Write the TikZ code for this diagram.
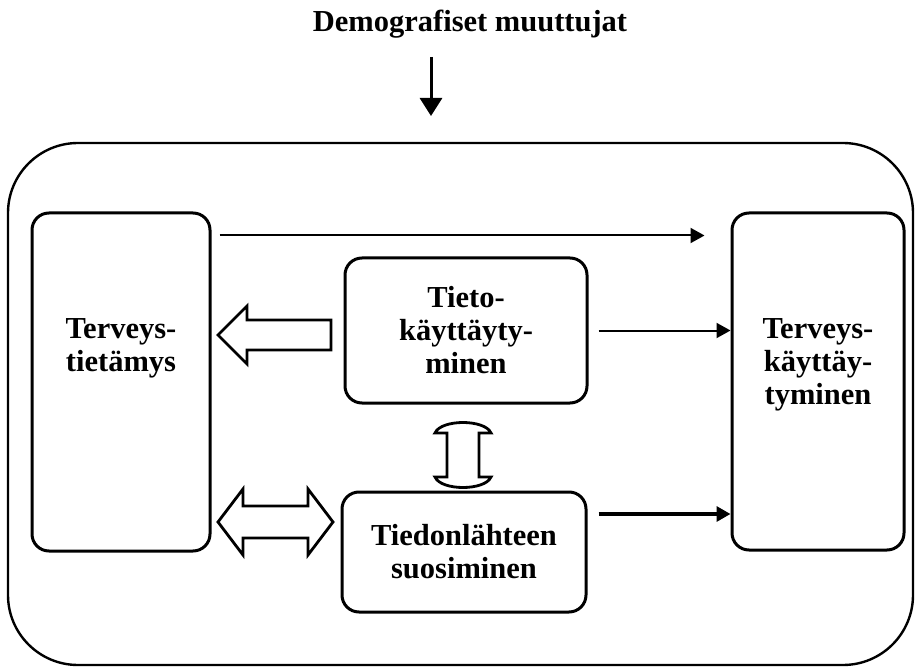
\documentclass[tikz,border=0pt]{standalone}
\usepackage{fontspec}
\setmainfont{Liberation Serif}
\usetikzlibrary{positioning, arrows.meta, calc}

\begin{document}
\begin{tikzpicture}[x=1pt, y=-1pt,
    frame/.style={draw=black, line width=2.4pt, rounded corners=70pt, inner sep=0pt},
    blk/.style={draw=black, line width=3pt, rounded corners=17pt, inner sep=0pt},
    lbl/.style={font=\fontsize{30.5}{33}\selectfont\bfseries, align=center, inner sep=0pt},
    ed/.style={-{Triangle[length=14pt, width=15pt]}, line width=2pt},
    edb/.style={ed, line width=3.2pt},
    hollow/.style={draw=black, line width=2.8pt, line join=miter}
  ]
  \useasboundingbox (0,0) rectangle (915,668);
  % ---------------- demographics ----------------
  \node[lbl, anchor=base] (demo) at (470,32) {Demografiset muuttujat};
  \coordinate (dtop) at (431,57);
  \coordinate (dtip) at (431,116);
  \draw[-{Triangle[length=18pt, width=22pt]}, line width=3pt] (dtop) -- (dtip);

  % ---------------- model ----------------
  \node[frame, minimum width=905, minimum height=522] (malli) at (460.5,404) {};
  \node[blk, minimum width=178, minimum height=338] (tiet) at (121,382) {};
  \node[lbl, anchor=north] (tietl) at (tiet.center |- 0,318) {Terveys-\\tietämys};
  \node[blk, minimum width=172, minimum height=337] (kayt) at (818,381.5) {};
  \node[lbl, anchor=north] (kaytl) at (kayt.center |- 0,318) {Terveys-\\käyttäy-\\tyminen};
  \node[blk, lbl, minimum width=242, minimum height=145] (tk) at (466,330.5) {Tieto-\\käyttäyty-\\minen};
  \node[blk, lbl, minimum width=244, minimum height=120] (ts) at (464,552) {Tiedonlähteen\\suosiminen};

  % ---------------- block arrows ----------------
  \draw[hollow] (218,335) -- (247,306) -- (247,320) -- (331,320) -- (331,350)
    -- (247,350) -- (247,364) -- cycle;
  \draw[hollow] (218,522) -- (243,489) -- (243,506) -- (308,506) -- (308,489) -- (333,522)
    -- (308,555) -- (308,538) -- (243,538) -- (243,555) -- cycle;
  \draw[hollow] (435,433) .. controls (441,419) and (485,419) .. (491,433) -- (479,433)
    -- (479,477) -- (491,477) .. controls (485,491) and (441,491) .. (435,477)
    -- (447,477) -- (447,433) -- cycle;

  % ---------------- arrows ----------------
  \draw[ed, shorten <=8pt, shorten >=26pt] ([yshift=-24pt]tiet.north east) -- ([yshift=-24pt]kayt.north west);
  \draw[ed, shorten <=10pt] (tk.east) -- (tk.east -| kayt.west);
  \coordinate (tsout) at ([xshift=11pt, yshift=38pt]ts.east);
  \draw[edb] (tsout) -- (tsout -| kayt.west);
\end{tikzpicture}
\end{document}
